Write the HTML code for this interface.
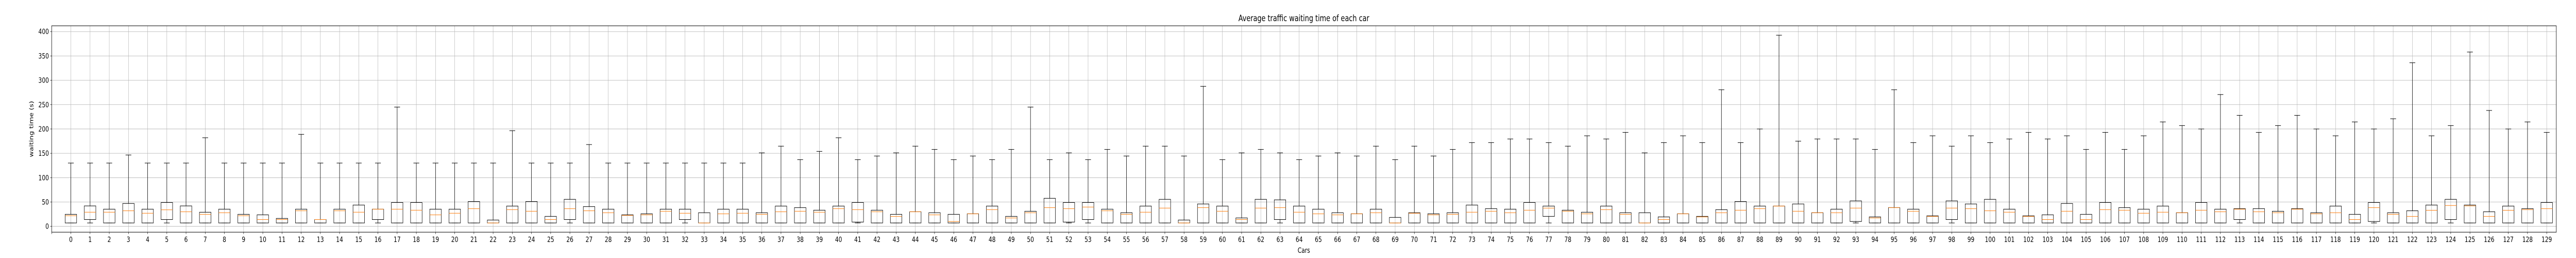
<!DOCTYPE html>
<html><head><meta charset="utf-8"><style>
html,body{margin:0;padding:0;background:#fff;overflow:hidden;width:100%;height:100%;}
svg{display:block;width:100vw;height:100vh;}
text{font-family:"DejaVu Sans","Liberation Sans",sans-serif;fill:#000;}
</style></head><body>
<svg id="chart" viewBox="0 0 6500 500" preserveAspectRatio="none" xmlns="http://www.w3.org/2000/svg">
<rect x="0" y="0" width="6500" height="500" fill="#fff"/>
<g id="grid"></g>
<g id="boxes"></g>
<rect x="130.4" y="50" width="6319.9" height="400" fill="none" stroke="#000" stroke-width="1"/>
<g id="ticks"></g>
<text x="3290" y="41" font-size="16.7" text-anchor="middle">Average traffic waiting time of each car</text>
<text x="3290" y="490" font-size="13.9" text-anchor="middle">Cars</text>
<text x="0" y="0" font-size="13.9" text-anchor="middle" transform="translate(84,250) rotate(-90)">waiting time (s)</text>
</svg>
<script>
const cars = Array.from({length:130},(_,i)=>String(i));
const whiskerHigh = [130,130,130,146.6,130,130,130,182,130,130,130,
130,189,130,130,130,130,245,130,130,130,130,130,
196.5,130,130,130,168,130,130,130,130,130,130,130,
130,151,164.7,137,154,182,137,144.5,151,164.7,158,137,
144.5,137,158,245,137,151,137,158,144.5,164.7,164.7,144.5,287.6,
137,151,158,151,137,144.5,151,144.5,164.7,137,164.7,144.5,
158,172,172,179.5,179.5,172,164.7,186,179.5,193,151,172,
186,172,280.6,172,200,392.6,175,179.5,179.5,179.5,158,280.6,
172,186,164.7,186,172,179.5,193,179.5,186,158,193,158,
186,214.5,207,200,270.7,228,193,207,228,200,186,214.5,200,
221,336,186,207,358,238,200,214.5,193];
const q3 = [24.7,42,35.3,47,35.3,49,42,29,35.3,24.7,23.7,
16.3,35.3,14,35.3,43.8,35.3,49,49,35.3,35.3,51,13,
41.7,51,20.5,55.5,40.6,35.3,23.7,25.8,35.3,35.3,28,35.3,
35.3,28,41.7,38.5,33.2,41.7,49,33.2,24.7,30,28,24.7,
25.8,41.7,20.5,31,57.6,49,49,35.3,28,41.7,55.5,13,46,
41.7,17.3,55.5,54.4,41.7,35.3,28,25.8,35.3,18.4,28,25.8,
28,43.8,36.4,35.3,49,41.7,33.2,29,41.7,28,28,19.4,
25.8,20.5,34.3,51,41.7,41.7,46,28,35.3,52.3,19.4,38.5,
35.3,21.6,52.3,46,55.5,35.3,21.6,23.7,47,24.7,49,38.5,
35.3,41.7,28,49,35.3,36.4,36.4,31,36.4,28,41.7,24.7,49,
28,32,43.8,55.5,43.8,30,41.7,36.4,49];
const median = [21.9,29,29,32,26.9,34,30,24.7,28,21.9,14,
14,32,14,32,29,35.3,35.3,33.2,23.7,26.9,36.4,7,
34.3,31,14,36.4,32,28,22.6,23.7,31,26.9,7,25.8,
26.9,24.7,30,31,29,36.4,34.3,30,20.5,30,23.7,10,
25.8,34.3,17.3,28,38.5,36.4,39.6,32,24.7,29,37.5,7,38.5,
31,14,37.5,38.5,29,25.8,23.7,25.8,28,7,26.9,23.7,
24.7,29,31,28,33.2,37.5,31,25.8,34.3,24.7,7,14,
25.8,19.4,28,33.2,36.4,41.7,31,28,28,37.5,17.3,38.5,
31,20.5,37.5,36.4,32,29,20.5,14,31,14,34.3,33.2,
26.9,29,28,33.2,30,35.3,30,28,35.3,25.8,28,14,38.5,
24.7,20.5,33,42.8,42,20.5,33,34.3,36.4];
const q1 = [7,14,7,7,7,14,7,7,7,7,7,
7,7,7,7,7,14,7,7,7,7,7,7,
7,7,7,14,7,7,7,7,7,14,7,7,
7,7,7,7,7,7,8.8,7,7,7,7,7,
7,7,7,7,7,8.8,14,7,7,7,7,7,7,
7,7,7,14,7,7,7,7,7,7,7,7,
7,7,7,7,7,20.5,7,7,7,7,7,7,
7,7,7,7,7,7,7,7,7,10,7,7,
7,7,14,7,7,7,7,7,7,7,7,7,
7,7,7,7,7,14,7,7,7,7,7,7,10,
7,7,7,14,7,7,7,7,7];
const whiskerLow = cars.map(()=>7);
const yTicks = [0,50,100,150,200,250,300,350,400];

const NS="http://www.w3.org/2000/svg";
const X0=130.4, X1=6450.3, Y0=50, Y1=450;
const XMIN=0, XMAX=130.5, YMIN=-12.0, YMAX=411.9;
const sx=v=>X0+(v-XMIN)/(XMAX-XMIN)*(X1-X0);
const sy=v=>Y1-(v-YMIN)/(YMAX-YMIN)*(Y1-Y0);
const step=(X1-X0)/(XMAX-XMIN);
const boxW=0.6*step, capW=0.3*step;
function mk(tag,attrs,parent){const e=document.createElementNS(NS,tag);for(const k in attrs)e.setAttribute(k,attrs[k]);parent.appendChild(e);return e;}
const grid=document.getElementById('grid'),boxes=document.getElementById('boxes'),ticks=document.getElementById('ticks');

yTicks.forEach(t=>{
  const y=sy(t);
  const g=mk('line',{x1:X0,x2:X1,y1:y,y2:y,stroke:'#b0b0b0','stroke-width':0.8},grid);
  
  
  const tk=mk('line',{x1:X0-3.5,x2:X0,y1:y,y2:y,stroke:'#000','stroke-width':0.8},ticks);
  
  
  const lb=mk('text',{x:X0-7,y:y+5,'font-size':13.9,'text-anchor':'end'},ticks);
  lb.textContent=String(t);
  
  
});
const t0=mk('line',{x1:sx(0),x2:sx(0),y1:Y1,y2:Y1+3.5,stroke:'#000','stroke-width':0.8},ticks);



cars.forEach((c,i)=>{
  const x=sx(i+1);
  const gl=mk('line',{x1:x,x2:x,y1:Y0,y2:Y1,stroke:'#b0b0b0','stroke-width':0.8},grid);
  
  
  const tk=mk('line',{x1:x,x2:x,y1:Y1,y2:Y1+3.5,stroke:'#000','stroke-width':0.8},ticks);
  
  
  const lb=mk('text',{x:x,y:Y1+19,'font-size':13.9,'text-anchor':'middle'},ticks);
  lb.textContent=c;
  
  

  const g=mk('g',{},boxes);
  
  
  const st={stroke:'#000','stroke-width':1,fill:'none'};
  const wu=mk('line',Object.assign({x1:x,x2:x,y1:sy(q3[i]),y2:sy(whiskerHigh[i])},st),g);
  
  
  const cu=mk('line',Object.assign({x1:x-capW/2,x2:x+capW/2,y1:sy(whiskerHigh[i]),y2:sy(whiskerHigh[i])},st),g);
  
  
  const wl=mk('line',Object.assign({x1:x,x2:x,y1:sy(q1[i]),y2:sy(whiskerLow[i])},st),g);
  
  
  const cl=mk('line',Object.assign({x1:x-capW/2,x2:x+capW/2,y1:sy(whiskerLow[i]),y2:sy(whiskerLow[i])},st),g);
  
  
  const r=mk('rect',Object.assign({x:x-boxW/2,y:sy(q3[i]),width:boxW,height:Math.max(0.5,sy(q1[i])-sy(q3[i]))},st),g);
  
  
  const m=mk('line',{x1:x-boxW/2,x2:x+boxW/2,y1:sy(median[i]),y2:sy(median[i]),stroke:'#ff7f0e','stroke-width':1},g);
  
  
});
</script>
</body></html>
